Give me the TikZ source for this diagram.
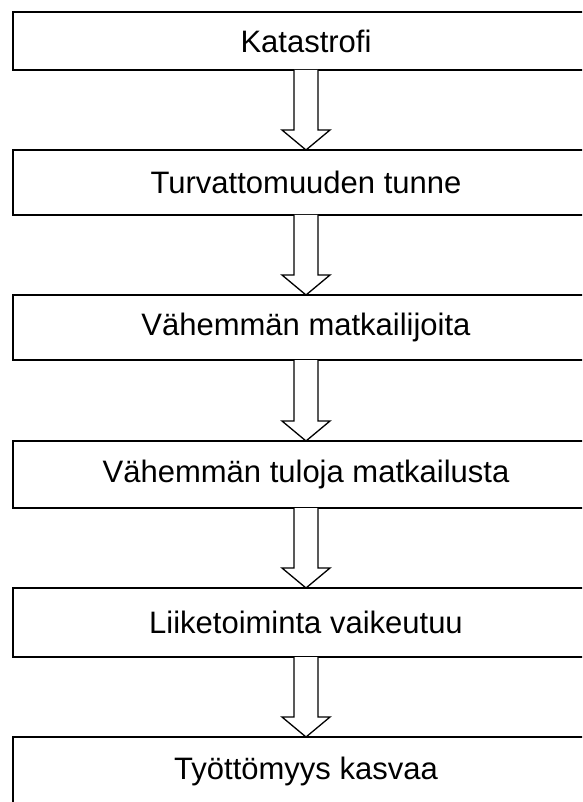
\documentclass[tikz,border=0pt]{standalone}
\usepackage{fontspec}
\setmainfont{Liberation Sans}
\usetikzlibrary{calc}
\begin{document}
\begin{tikzpicture}[x=1pt,y=1pt,
  stepbox/.style={draw=black, line width=1.8pt, fill=white, minimum width=586pt, inner sep=0pt, outer sep=0pt, font=\fontsize{31}{37}\selectfont},
  arrowshape/.style={draw=black, line width=1.3pt, line join=miter, fill=white}]
\clip (0,0) rectangle (582,-802);
\useasboundingbox (0,0) rectangle (582,-802);
\fill[white] (0,0) rectangle (582,-802);
\node[stepbox, minimum height=58pt] (b1) at (306,-41) {Katastrofi};
\node[stepbox, minimum height=65pt] (b2) at (306,-182.5) {Turvattomuuden tunne};
\node[stepbox, minimum height=65pt] (b3) at (306,-327.5) {Vähemmän matkailijoita};
\node[stepbox, minimum height=67pt] (b4) at (306,-474.5) {Vähemmän tuloja matkailusta};
\node[stepbox, minimum height=69pt] (b5) at (306,-622.5) {Liiketoiminta vaikeutuu};
\node[stepbox, minimum height=69pt] (b6) at (306,-771.5) {Työttömyys kasvaa};
\foreach \a/\b in {b1/b2,b2/b3,b3/b4,b4/b5,b5/b6}{
  \draw[arrowshape] ($(\a.south)+(-12,0)$) -- ($(\b.north)+(-12,20)$) -- ($(\b.north)+(-24,20)$) -- (\b.north) -- ($(\b.north)+(24,20)$) -- ($(\b.north)+(12,20)$) -- ($(\a.south)+(12,0)$);
}
\end{tikzpicture}
\end{document}
